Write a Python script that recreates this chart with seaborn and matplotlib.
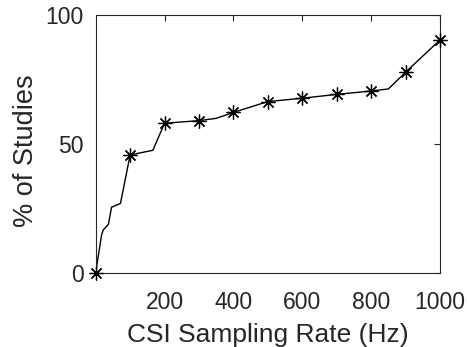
import matplotlib
matplotlib.use("Agg")
import matplotlib.pyplot as plt
import seaborn as sns
import pandas as pd

rate = [0, 17, 22, 37, 46, 72, 100, 166, 200, 300, 350, 400, 500, 600, 700, 800, 850, 900, 1000]
pct = [0, 14.6, 16.6, 18.8, 25.4, 26.9, 45.7, 47.5, 58.0, 59.0, 59.9, 62.2, 66.4, 67.7, 69.2, 70.5, 71.3, 77.8, 90.3]
marked_rates = [0, 100, 200, 300, 400, 500, 600, 700, 800, 900, 1000]
x_ticks = [200, 400, 600, 800, 1000]
y_ticks = [0, 50, 100]

sns.set_style("white")
plt.rcParams["font.family"] = ["Liberation Sans", "DejaVu Sans"]

df = pd.DataFrame({"rate": rate, "pct": pct})
dm = df[df["rate"].isin(marked_rates)]

fig = plt.figure(figsize=(4.67, 3.47), dpi=100)
ax = fig.add_axes([0.2049, 0.2141, 0.7373, 0.7427])

sns.lineplot(data=df, x="rate", y="pct", ax=ax, color="black", linewidth=1.0,
             sort=False, estimator=None)
ax.plot(dm["rate"], dm["pct"], linestyle="none", marker=(8, 2, 0), markersize=10,
        markeredgewidth=0.9, color="black", clip_on=False, zorder=5)
sns.scatterplot(data=dm, x="rate", y="pct", ax=ax, color="black", s=7, linewidth=0,
                zorder=6, clip_on=False)

ax.set_xlim(0, 1000)
ax.set_ylim(0, 100)
ax.set_xticks(x_ticks)
ax.set_yticks(y_ticks)
tc = "#262626"
ax.tick_params(direction="in", length=4, width=0.8, top=True, right=True,
               labelsize=16.5, colors=tc)
ax.tick_params(axis="x", pad=13)
ax.tick_params(axis="y", pad=8.5)
for s in ax.spines.values():
    s.set_color("#262626")
    s.set_linewidth(0.8)
ax.set_xlabel("CSI Sampling Rate (Hz)", fontsize=19, color=tc)
ax.set_ylabel("% of Studies", fontsize=19.5, color=tc)
ax.xaxis.set_label_coords(0.5, -0.196)
ax.yaxis.set_label_coords(-0.1655, 0.474)

fig.savefig("out.png", dpi=100)
